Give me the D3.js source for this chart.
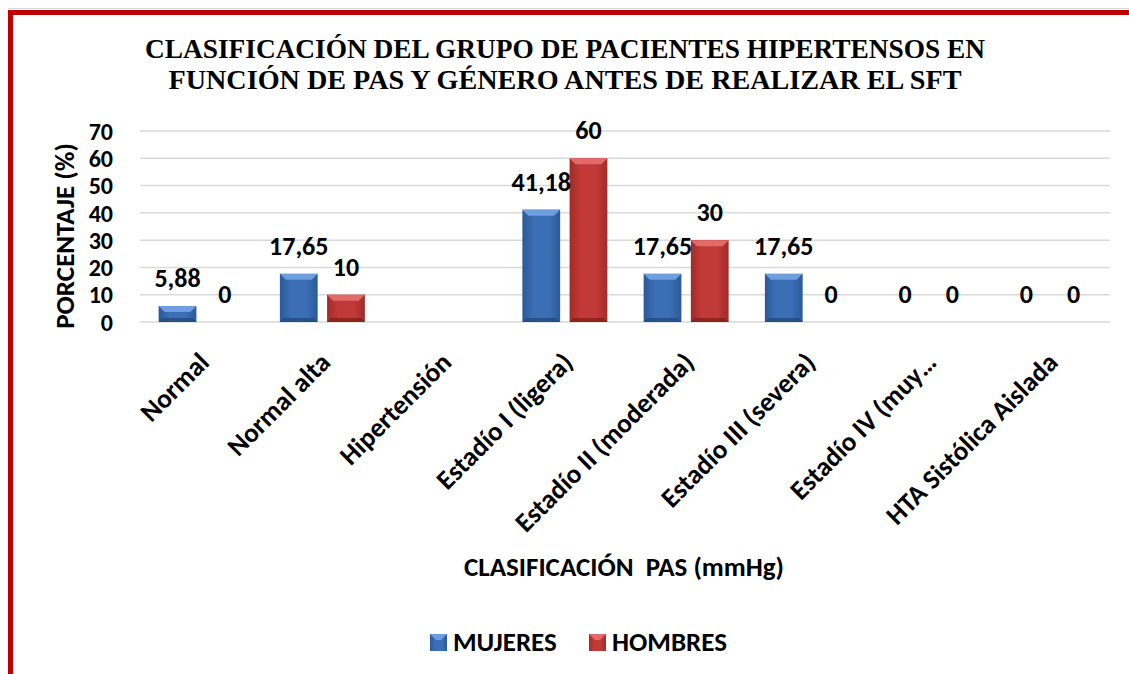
<!DOCTYPE html>
<html>
<head>
<meta charset="utf-8">
<script src="https://cdn.jsdelivr.net/npm/d3@7"></script>
<style>
  body { margin: 0; background: #fff; }
  svg { display: block; }
</style>
</head>
<body>
<div id="chart"></div>
<script>
// Data
const categories = ["Normal", "Normal alta", "Hipertensión", "Estadío I (ligera)",
    "Estadío II (moderada)", "Estadío III (severa)", "Estadío IV (muy…", "HTA Sistólica Aislada"];
const mujeres = [5.88, 17.65, null, 41.18, 17.65, 17.65, 0, 0];
const hombres = [0, 10, null, 60, 30, 0, 0, 0];
const series = ["MUJERES", "HOMBRES"];
const yTicks = [0, 10, 20, 30, 40, 50, 60, 70];

const W = 1129, H = 674;
const font = "Carlito, Calibri, 'Open Sans', sans-serif";

const svg = d3.select("#chart").append("svg")
    .attr("width", W)
    .attr("height", H);

// frame (red border, top and left)
svg.append("rect").attr("x", 8).attr("y", 8).attr("width", W).attr("height", 1).attr("fill", "#d9d9d9");
svg.append("rect").attr("x", 8).attr("y", 10).attr("width", W - 8).attr("height", 5).attr("fill", "#c00000");
svg.append("rect").attr("x", 8).attr("y", 10).attr("width", 5).attr("height", H - 10).attr("fill", "#c00000");

// Title
const titleLines = [
    { text: "CLASIFICACIÓN DEL GRUPO DE PACIENTES HIPERTENSOS EN", y: 58, len: 840 },
    { text: "FUNCIÓN DE PAS Y GÉNERO ANTES DE REALIZAR EL SFT", y: 89, len: 793 }
];
svg.selectAll(".title")
    .data(titleLines)
    .enter().append("text")
    .attr("class", "title")
    .attr("x", 565)
    .attr("y", d => d.y)
    .attr("text-anchor", "middle")
    .attr("textLength", d => d.len)
    .attr("lengthAdjust", "spacingAndGlyphs")
    .style("font-family", "'Liberation Serif', 'Times New Roman', serif")
    .style("font-weight", "bold")
    .style("font-size", "27px")
    .text(d => d.text);

// scales
const x0 = d3.scaleBand().domain(categories).range([140, 1110]);
const x1 = d3.scaleBand().domain(series).range([-42, 43]).paddingInner(0.2);
const y = d3.scaleLinear().domain([0, 70]).range([322, 131]);

// gridlines
svg.append("g")
    .selectAll("line")
    .data(yTicks)
    .enter().append("line")
    .attr("x1", 140).attr("x2", 1110)
    .attr("y1", d => y(d)).attr("y2", d => y(d))
    .attr("stroke", "#d9d9d9")
    .attr("stroke-width", 1.5);

// y axis
const yAxis = d3.axisLeft(y).tickValues(yTicks).tickSize(0).tickPadding(0);
const gy = svg.append("g")
    .attr("transform", "translate(113,0)")
    .call(yAxis);
gy.select(".domain").remove();
gy.selectAll("text")
    .attr("dy", "0.34em")
    .style("font-family", font)
    .style("font-weight", "bold")
    .style("font-size", "24px")
    .attr("fill", "#000");

// x axis labels
const gx = svg.append("g")
    .attr("transform", "translate(0,322)")
    .call(d3.axisBottom(x0).tickSize(0).tickPadding(0));
gx.select(".domain").remove();
gx.selectAll("text")
    .attr("text-anchor", "end")
    .attr("dy", 0)
    .attr("transform", "translate(10,42) rotate(-45)")
    .style("font-family", font)
    .style("font-weight", "bold")
    .style("font-size", "27px")
    .attr("fill", "#000");

// bar colours (bevelled look like the original)
const pal = {
    MUJERES: { main: "#3a6eb5", edge: "#2c5a98", top: "#6b9fe0", bottom: "#25497c" },
    HOMBRES: { main: "#c23a37", edge: "#a02c2a", top: "#e26a67", bottom: "#7e2120" }
};
const defs = svg.append("defs");
series.forEach(s => {
    const g = defs.append("linearGradient")
        .attr("id", "grad-" + s)
        .attr("x1", "0%").attr("x2", "100%").attr("y1", "0%").attr("y2", "0%");
    g.append("stop").attr("offset", "0%").attr("stop-color", pal[s].edge);
    g.append("stop").attr("offset", "30%").attr("stop-color", pal[s].main);
    g.append("stop").attr("offset", "70%").attr("stop-color", pal[s].main);
    g.append("stop").attr("offset", "100%").attr("stop-color", pal[s].edge);
});

const rows = categories.map((c, i) => ({ cat: c, vals: [
    { key: "MUJERES", v: mujeres[i] },
    { key: "HOMBRES", v: hombres[i] }
]}));

const groups = svg.append("g").selectAll("g")
    .data(rows)
    .enter().append("g")
    .attr("transform", d => `translate(${x0(d.cat) + x0.bandwidth() / 2},0)`);

const bars = groups.selectAll("g.bar")
    .data(d => d.vals.filter(v => v.v !== null && v.v > 0))
    .enter().append("g")
    .attr("class", "bar");

bars.append("rect")
    .attr("x", d => x1(d.key))
    .attr("y", d => y(d.v))
    .attr("width", x1.bandwidth())
    .attr("height", d => y(0) - y(d.v))
    .attr("fill", d => `url(#grad-${d.key})`);

// bevel: light top and dark bottom trapezoids
bars.append("polygon")
    .attr("points", d => {
        const xl = x1(d.key), xr = xl + x1.bandwidth();
        const t = y(d.v), b = Math.min(6, (y(0) - y(d.v)) / 2);
        return `${xl},${t} ${xr},${t} ${xr - b},${t + b} ${xl + b},${t + b}`;
    })
    .attr("fill", d => pal[d.key].top);
bars.append("polygon")
    .attr("points", d => {
        const xl = x1(d.key), xr = xl + x1.bandwidth();
        const bt = y(0), b = Math.min(4, (y(0) - y(d.v)) / 3);
        return `${xl},${bt} ${xr},${bt} ${xr - b},${bt - b} ${xl + b},${bt - b}`;
    })
    .attr("fill", d => pal[d.key].bottom)
    .attr("opacity", 0.8);

// value labels
groups.selectAll("text.val")
    .data(d => d.vals.filter(v => v.v !== null))
    .enter().append("text")
    .attr("class", "val")
    .attr("x", d => x1(d.key) + x1.bandwidth() / 2)
    .attr("y", d => y(d.v) - 19)
    .attr("text-anchor", "middle")
    .style("font-family", font)
    .style("font-weight", "bold")
    .style("font-size", "26px")
    .text(d => String(d.v).replace(".", ","));

// axis titles
svg.append("text")
    .attr("x", 624)
    .attr("y", 576)
    .attr("text-anchor", "middle")
    .style("font-family", font)
    .style("font-weight", "bold")
    .style("font-size", "27px")
    .style("white-space", "pre")
    .text("CLASIFICACIÓN  PAS (mmHg)");

svg.append("text")
    .attr("transform", "translate(74,236) rotate(-90)")
    .attr("text-anchor", "middle")
    .style("font-family", font)
    .style("font-weight", "bold")
    .style("font-size", "27px")
    .text("PORCENTAJE (%)");

// legend
const legendItems = [
    { key: "MUJERES", x: 430 },
    { key: "HOMBRES", x: 589 }
];
const lg = svg.append("g").selectAll("g")
    .data(legendItems)
    .enter().append("g")
    .attr("transform", d => `translate(${d.x},634)`);
lg.append("rect")
    .attr("width", 17).attr("height", 17)
    .attr("fill", d => `url(#grad-${d.key})`);
lg.append("polygon")
    .attr("points", "0,0 17,0 11,6 6,6")
    .attr("fill", d => pal[d.key].top);
lg.append("text")
    .attr("x", 23)
    .attr("y", 17)
    .style("font-family", font)
    .style("font-weight", "bold")
    .style("font-size", "27px")
    .text(d => d.key);
</script>
</body>
</html>
